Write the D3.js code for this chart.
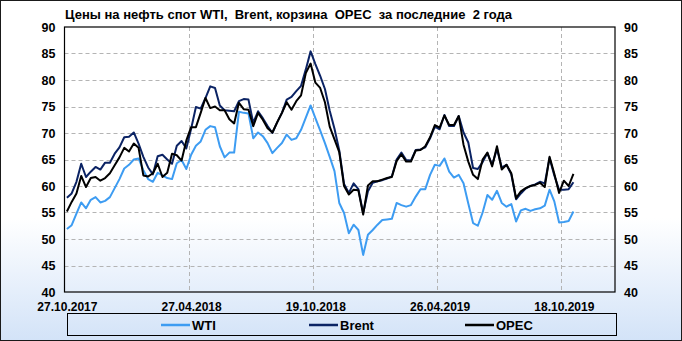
<!doctype html>
<html>
<head>
<meta charset="utf-8">
<title>Нефть WTI, Brent, OPEC</title>
<script src="https://cdn.jsdelivr.net/npm/d3@7"></script>
<style>
  body { margin: 0; }
  svg text { font-family: "Liberation Sans", Arial, sans-serif; font-weight: bold; fill: #000; }
</style>
</head>
<body>
<script>
// недельные цены, долл./барр.
const wti = [
  51.9, 52.6, 54.8, 56.9, 55.8, 57.4, 57.9, 56.9, 57.2, 57.9,
  59.6, 61.3, 63.3, 64.0, 65.0, 65.2, 63.0, 61.3, 60.8, 62.5,
  62.0, 61.5, 61.3, 64.3, 64.9, 63.2, 65.9, 67.6, 68.4, 70.6,
  71.3, 71.1, 67.5, 65.4, 66.3, 66.3, 74.0, 73.8, 73.7, 69.0,
  70.1, 69.4, 68.1, 66.2, 67.2, 68.1, 69.7, 68.7, 69.0, 70.6,
  72.9, 75.2, 72.8, 70.5, 68.1, 65.5, 62.8, 56.8, 54.9, 51.1,
  52.7, 51.7, 47.0, 50.8, 51.7, 52.7, 53.6, 53.7, 53.8, 56.8,
  56.4, 56.1, 56.4, 58.0, 59.4, 59.4, 62.1, 64.0, 63.8, 65.2,
  62.7, 61.6, 62.1, 60.5, 56.7, 53.0, 52.5, 55.0, 58.3, 57.4,
  59.1, 56.8, 56.1, 56.6, 53.3, 55.4, 55.7, 55.3, 55.6, 55.8,
  56.3, 59.3, 57.1, 53.1, 53.2, 53.4, 55.2
];
const brent = [
  57.8, 58.6, 60.8, 64.2, 61.7, 62.7, 63.6, 63.1, 64.4, 64.4,
  66.1, 67.3, 69.2, 69.3, 70.1, 68.0, 65.5, 63.5, 62.2, 65.6,
  65.9, 65.0, 64.2, 67.6, 68.5, 67.1, 70.8, 74.9, 74.6, 76.6,
  78.8, 78.5, 75.2, 74.3, 74.2, 74.1, 76.0, 76.4, 76.3, 71.9,
  74.1, 72.8, 71.3, 70.0, 72.0, 73.8, 76.3, 76.8, 77.9, 78.9,
  82.0, 85.4, 83.0, 80.8, 78.3, 74.2, 70.8, 66.7, 60.4, 58.7,
  60.5, 59.4, 54.9, 59.0, 60.6, 60.9, 61.1, 61.4, 61.8, 65.0,
  66.3, 64.9, 64.8, 66.8, 66.9, 67.3, 69.0, 71.2, 70.7, 73.4,
  71.3, 71.3, 73.2, 70.1, 68.2, 63.4, 63.2, 64.5, 66.2, 64.0,
  67.0, 63.5, 64.0, 62.2, 57.5, 58.6, 59.5, 60.0, 60.3, 60.8,
  60.5, 65.3, 62.0, 59.3, 59.3, 59.4, 60.7
];
const opec = [
  55.2, 57.0, 58.6, 61.9, 59.8, 61.5, 61.7, 61.0, 61.5, 62.4,
  63.9, 65.4, 67.2, 66.5, 68.0, 67.2, 62.0, 61.8, 62.4, 64.2,
  61.7, 62.5, 66.1, 65.8, 64.8, 68.6, 71.1, 71.1, 73.8, 76.6,
  74.7, 75.0, 74.3, 74.3, 72.6, 71.8, 75.7, 74.5, 74.4, 71.3,
  73.8, 72.5, 70.9, 70.1, 72.0, 73.8, 75.8, 74.4, 76.0, 77.1,
  81.3, 83.1, 79.5, 78.5, 75.8, 71.2, 68.8, 66.4, 60.0, 58.4,
  59.3, 59.2, 54.6, 60.1, 60.9, 60.9, 61.2, 61.5, 61.7, 64.7,
  66.0, 64.6, 64.6, 66.7, 66.8, 67.5, 69.2, 71.5, 71.0, 73.3,
  71.5, 71.5, 73.2, 67.8, 64.6, 62.1, 61.3, 65.0, 66.3, 63.7,
  67.5, 63.1, 64.0, 62.4, 57.7, 59.0, 59.6, 60.0, 60.2, 60.6,
  59.8, 65.5, 62.3, 58.7, 61.0, 60.0, 62.3
];

const seriesNames = ['WTI', 'Brent', 'OPEC'];
const tickIndex = [0, 26, 52, 78, 104];
const tickLabels = ['27.10.2017', '27.04.2018', '19.10.2018', '26.04.2019', '18.10.2019'];
const yTicks = [40, 45, 50, 55, 60, 65, 70, 75, 80, 85, 90];

const series = [
  {name: seriesNames[0], values: wti, color: '#3d9cf2'},
  {name: seriesNames[1], values: brent, color: '#0b2364'},
  {name: seriesNames[2], values: opec, color: '#000000'}
];

const width = 682, height = 341;
const plot = {left: 64.5, right: 615, top: 27, bottom: 292};
const nCat = 115.2;   // ширина оси в категориях

const svg = d3.select('body').append('svg')
    .attr('width', width)
    .attr('height', height);

// фон
const grad = svg.append('defs').append('linearGradient')
    .attr('id', 'bg')
    .attr('x1', 0).attr('y1', 0).attr('x2', 0).attr('y2', 1);
grad.append('stop').attr('offset', '0').attr('stop-color', '#ffffff');
grad.append('stop').attr('offset', '0.64').attr('stop-color', '#ffffff');
grad.append('stop').attr('offset', '1').attr('stop-color', '#d3e3f8');

svg.append('rect')
    .attr('x', 0.5).attr('y', 0.5)
    .attr('width', width - 1).attr('height', height - 1)
    .attr('fill', 'url(#bg)')
    .attr('stroke', '#1a1a1a');

const x = d3.scaleLinear().domain([0, nCat]).range([plot.left, plot.right]);
const y = d3.scaleLinear().domain([40, 90]).range([plot.bottom, plot.top]);

// сетка
svg.append('g')
  .selectAll('line')
  .data(yTicks.slice(1, -1))
  .enter().append('line')
    .attr('x1', plot.left).attr('x2', plot.right)
    .attr('y1', d => Math.round(y(d)) + 0.5)
    .attr('y2', d => Math.round(y(d)) + 0.5)
    .attr('stroke', '#b4b4b4')
    .attr('stroke-dasharray', '4,3');

svg.append('g')
  .selectAll('line')
  .data(tickIndex.slice(1))
  .enter().append('line')
    .attr('x1', d => Math.round(x(d)) + 0.5)
    .attr('x2', d => Math.round(x(d)) + 0.5)
    .attr('y1', plot.top).attr('y2', plot.bottom)
    .attr('stroke', '#b4b4b4')
    .attr('stroke-dasharray', '4,3');

// оси
const axisL = svg.append('g')
    .attr('transform', `translate(${plot.left},0)`)
    .call(d3.axisLeft(y).tickValues(yTicks).tickSize(0).tickPadding(9));
const axisR = svg.append('g')
    .attr('transform', `translate(${plot.right},0)`)
    .call(d3.axisRight(y).tickValues(yTicks).tickSize(0).tickPadding(9));
const axisB = svg.append('g')
    .attr('transform', `translate(0,${plot.bottom})`)
    .call(d3.axisBottom(x)
      .tickValues(tickIndex.map(i => i + 0.5))
      .tickFormat((d, k) => tickLabels[k])
      .tickSize(0).tickPadding(10));

[axisL, axisR, axisB].forEach(g => {
  g.select('.domain').remove();
  g.selectAll('text')
    .attr('font-family', null)
    .style('font-size', '12.5px');
});
axisB.selectAll('text').style('font-size', '12px');

// линии
const line = d3.line()
    .x((d, i) => x(i + 0.5))
    .y(d => y(d));

svg.append('g')
  .selectAll('path')
  .data(series)
  .enter().append('path')
    .attr('d', d => line(d.values))
    .attr('fill', 'none')
    .attr('stroke', d => d.color)
    .attr('stroke-width', 2)
    .attr('stroke-linejoin', 'round');

// рамка области построения
svg.append('rect')
    .attr('x', plot.left).attr('y', plot.top)
    .attr('width', plot.right - plot.left)
    .attr('height', plot.bottom - plot.top)
    .attr('fill', 'none')
    .attr('stroke', '#000')
    .attr('stroke-width', 1.2);

// заголовок
svg.append('text')
    .attr('x', 65)
    .attr('y', 19)
    .style('font-size', '13px')
    .style('white-space', 'pre')
    .text('Цены на нефть спот WTI,  Brent, корзина  OPEC  за последние  2 года');

// легенда
svg.append('rect')
    .attr('x', 67.5).attr('y', 313.5)
    .attr('width', 549).attr('height', 22)
    .attr('fill', 'none')
    .attr('stroke', '#000');

const legendX = [161, 309, 465];
const gLeg = svg.append('g')
  .selectAll('g')
  .data(series)
  .enter().append('g')
    .attr('transform', (d, i) => `translate(${legendX[i]},325)`);

gLeg.append('line')
    .attr('x1', 0).attr('x2', 29)
    .attr('stroke', d => d.color)
    .attr('stroke-width', 2.5);

gLeg.append('text')
    .attr('x', 31)
    .attr('dy', '0.35em')
    .style('font-size', '13px')
    .text(d => d.name);
</script>
</body>
</html>
